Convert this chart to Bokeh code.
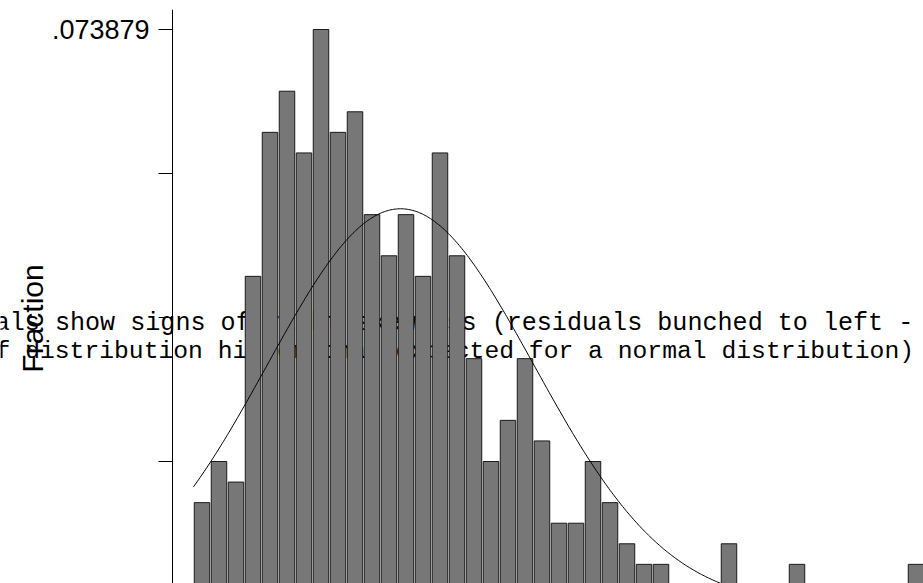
import numpy as np
from bokeh.plotting import figure
from bokeh.models import Range1d, FixedTicker, Label, ColumnDataSource
from bokeh.embed import file_html
from bokeh.resources import INLINE

# ---- data ----
total_n = 379                      # 28/379 = .073879 (tallest bar)
bin_counts = [5, 7, 6, 16, 23, 25, 22, 28, 23, 24, 19, 17, 19, 16, 22, 17,
              12, 7, 9, 12, 8, 4, 4, 7, 5, 3, 2, 2, 0, 0, 0, 3, 0, 0, 0, 2,
              0, 0, 0, 0, 0, 0, 2]
bin_index = list(range(1, len(bin_counts) + 1))
fit_mean = 12.18                   # normal overlay, in bin units from the minimum
fit_sd = 7.84
y_ticks = [0, 7 / 379, 14 / 379, 21 / 379, 28 / 379]
y_tick_text = {28 / 379: ".073879"}
note_line1 = "als show signs of right skewness (residuals bunched to left -"
note_line2 = "f distribution higher than expected for a normal distribution)"
y_title = "Fraction"

fractions = [c / total_n for c in bin_counts]
centers = [i - 0.5 for i in bin_index]

curve_x = np.linspace(0, 48, 600)
curve_y = np.exp(-(curve_x - fit_mean) ** 2 / (2 * fit_sd ** 2)) / (fit_sd * np.sqrt(2 * np.pi))

# helpers converting reference pixel layout into data units (layout only)
def px_x(xw):
    return (xw - 193) / 17.0

def px_y(yw):
    return (605 - yw) / 576.0 * (28 / 379)

W, H = 923, 583
p = figure(width=W, height=H, output_backend="svg", toolbar_location=None,
           x_range=Range1d(px_x(0), px_x(W)), y_range=Range1d(px_y(H), px_y(9)),
           min_border_left=0, min_border_right=0, min_border_top=9, min_border_bottom=0)
p.outline_line_color = None
p.xaxis.visible = False
p.xgrid.visible = False
p.ygrid.visible = False
p.background_fill_color = "white"
p.border_fill_color = "white"

# note text drawn behind the bars
lab1 = Label(x=px_x(-5.8), y=px_y(323), text=note_line1,
             text_font="Liberation Mono", text_font_size="25.1px", text_color="black",
             text_align="left", text_baseline="alphabetic", level="underlay")
lab2 = Label(x=px_x(-5.0), y=px_y(350), text=note_line2,
             text_font="Liberation Mono", text_font_size="24.7px", text_color="black",
             text_align="left", text_baseline="alphabetic", level="underlay")
p.add_layout(lab1)
p.add_layout(lab2)

src = ColumnDataSource(dict(x=centers, top=fractions))
p.vbar(x="x", top="top", bottom=0, width=0.91, source=src,
       fill_color="#777777", line_color="#1a1a1a", line_width=1)
p.line(curve_x, curve_y, line_color="black", line_width=1)

ax = p.yaxis[0]
ax.fixed_location = px_x(172)
ax.ticker = FixedTicker(ticks=y_ticks)
ax.major_label_overrides = {t: y_tick_text.get(t, "") for t in y_ticks}
ax.major_tick_out = 14
ax.major_tick_in = 0
ax.minor_tick_out = 0
ax.minor_tick_in = 0
ax.major_label_standoff = 9
ax.major_label_text_font = "Liberation Sans"
ax.major_label_text_font_size = "27px"
ax.major_label_text_color = "black"
ax.axis_line_color = "black"
ax.major_tick_line_color = "black"

ytitle = Label(x=px_x(32), y=px_y(318), text=y_title, angle=np.pi / 2,
               text_font="Liberation Sans", text_font_size="30px", text_color="black",
               text_align="center", text_baseline="alphabetic")
p.add_layout(ytitle)

open("out.html", "w").write(file_html(p, INLINE))
